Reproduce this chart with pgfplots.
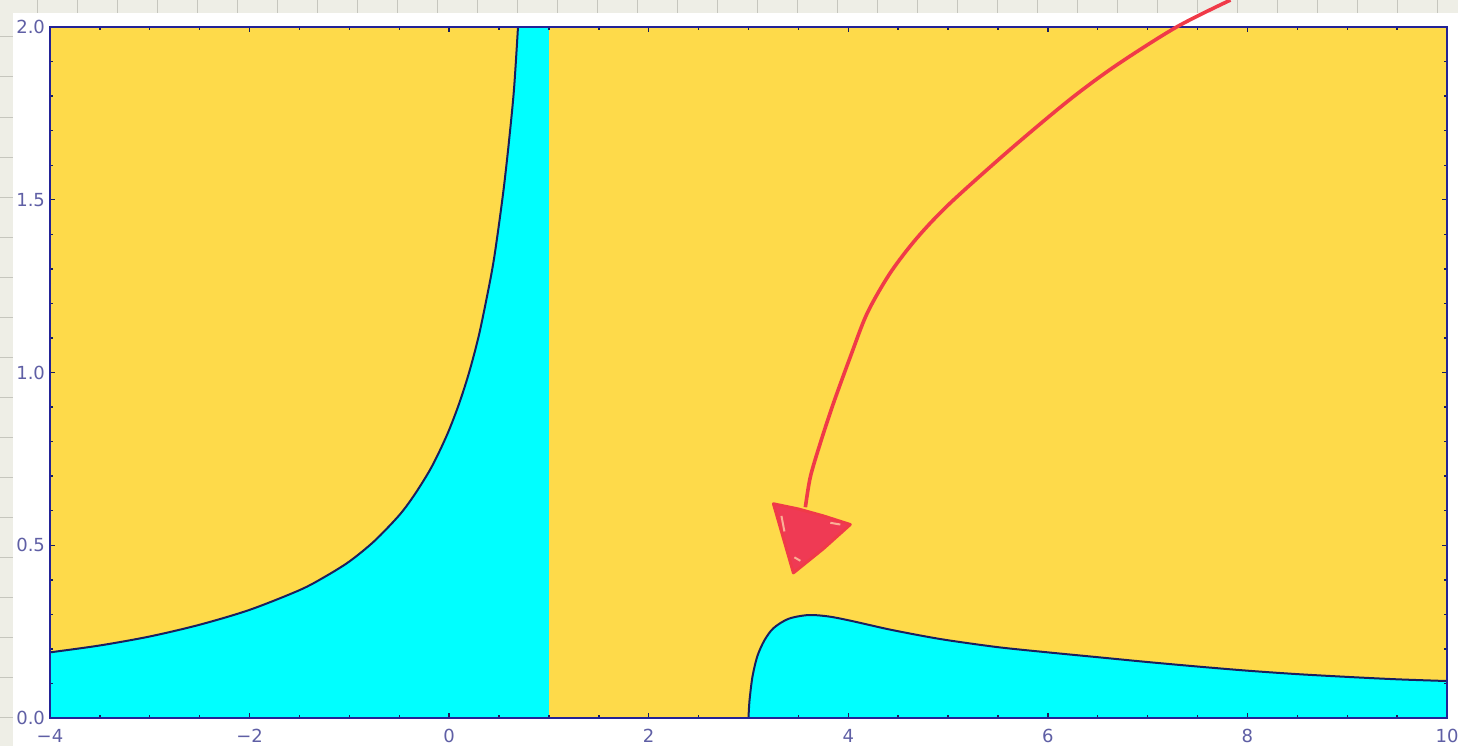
\documentclass[border=0pt]{standalone}
\usepackage{pgfplots}
\pgfplotsset{compat=1.18}
\usepackage{fontspec}
\setmainfont{DejaVu Sans}
\definecolor{ryel}{RGB}{254,218,74}
\definecolor{rcyan}{RGB}{0,255,255}
\definecolor{frameblue}{RGB}{35,35,150}
\definecolor{edge}{RGB}{25,30,95}
\definecolor{lbl}{RGB}{95,95,165}
\definecolor{redpen}{RGB}{240,58,72}
\definecolor{redfill}{RGB}{238,45,85}
\definecolor{gapcol}{RGB}{250,175,150}
\definecolor{ruler}{RGB}{238,238,230}
\definecolor{rulerline}{RGB}{198,198,190}
\begin{document}
\begin{tikzpicture}
\fill[white] (-25pt,-14pt) rectangle (704pt,359pt);
\fill[ruler] (-25pt,-14pt) rectangle (-18.5pt,352.5pt);
\fill[ruler] (-25pt,352.5pt) rectangle (704pt,359pt);
\foreach \k in {0,...,17} \draw[rulerline,line width=0.5pt] (-25pt,340.5pt-\k*20pt) -- (-18.5pt,340.5pt-\k*20pt);
\foreach \k in {0,...,36} \draw[rulerline,line width=0.5pt] (-6.5pt+\k*20pt,352.5pt) -- (-6.5pt+\k*20pt,359pt);
\begin{axis}[at={(0,0)}, anchor=south west, scale only axis,
  width=698.5pt, height=345.5pt,
  xmin=-4, xmax=10, ymin=0, ymax=2, clip=false,
  set layers, axis on top,
  axis line style={frameblue, line width=1.3pt},
  xtick={-4,-2,0,2,4,6,8,10},
  xticklabels={−4,−2,0,2,4,6,8,10},
  minor x tick num=3,
  ytick={0,0.5,1,1.5,2},
  yticklabels={0.0,0.5,1.0,1.5,2.0},
  minor y tick num=4,
  tick align=inside,
  major tick length=2.6pt, minor tick length=1.6pt,
  tick style={edge, line width=0.7pt},
  ticklabel style={font=\fontsize{9}{10}\selectfont, text=lbl},
  yticklabel style={xshift=1pt},
  xticklabel style={yshift=-2pt},
]
\fill[ryel] (rel axis cs:0,0) rectangle (rel axis cs:1,1);
% left cyan region
\addplot[fill=rcyan, draw=none] coordinates {(-4,0) (-4,0.19) (-3.5,0.21) (-3,0.236) (-2.5,0.27) (-2,0.313) (-1.5,0.37) (-1.25,0.408) (-1,0.453) (-0.75,0.512) (-0.5,0.587) (-0.35,0.645) (-0.2,0.714) (-0.1,0.77) (0,0.834) (0.1,0.91) (0.2,1.0) (0.3,1.11) (0.4,1.25) (0.45,1.33) (0.5,1.43) (0.55,1.54) (0.6,1.67) (0.65,1.82) (0.69,2.0) (1,2) (1,0)} -- cycle;
\addplot[edge, line width=1pt, smooth] coordinates {(-4,0.19) (-3.5,0.21) (-3,0.236) (-2.5,0.27) (-2,0.313) (-1.5,0.37) (-1.25,0.408) (-1,0.453) (-0.75,0.512) (-0.5,0.587) (-0.35,0.645) (-0.2,0.714) (-0.1,0.77) (0,0.834) (0.1,0.91) (0.2,1.0) (0.3,1.11) (0.4,1.25) (0.45,1.33) (0.5,1.43) (0.55,1.54) (0.6,1.67) (0.65,1.82) (0.69,2.0)};
% right cyan region
\addplot[fill=rcyan, draw=none] coordinates {(3.0,0) (3.01,0.05) (3.04,0.12) (3.09,0.18) (3.16,0.225) (3.25,0.26) (3.4,0.287) (3.6,0.298) (3.8,0.294) (4.0,0.283) (4.2,0.27) (4.4,0.257) (4.7,0.24) (5.0,0.225) (5.5,0.205) (6.0,0.19) (6.5,0.176) (7.0,0.162) (7.5,0.149) (8.0,0.137) (8.5,0.127) (9.0,0.119) (9.5,0.112) (10,0.107) (10,0)} -- cycle;
\addplot[edge, line width=1pt, smooth, tension=0.5] coordinates {(3.0,0) (3.01,0.05) (3.04,0.12) (3.09,0.18) (3.16,0.225) (3.25,0.26) (3.4,0.287) (3.6,0.298) (3.8,0.294) (4.0,0.283) (4.2,0.27) (4.4,0.257) (4.7,0.24) (5.0,0.225) (5.5,0.205) (6.0,0.19) (6.5,0.176) (7.0,0.162) (7.5,0.149) (8.0,0.137) (8.5,0.127) (9.0,0.119) (9.5,0.112) (10,0.107)};
% red hand-drawn arrow
\addplot[redpen, line width=1.8pt, smooth, on layer=axis foreground] coordinates {(7.83,2.078) (7.29,2.0) (6.69,1.89) (6.22,1.79) (5.62,1.645) (5.02,1.49) (4.69,1.39) (4.42,1.288) (4.19,1.172) (4.02,1.045) (3.85,0.91) (3.72,0.796) (3.62,0.698) (3.57,0.61)};
\addplot[fill=redfill, fill opacity=0.92, draw=redpen, line width=1.5pt, line join=round] coordinates {(3.25,0.62) (3.5,0.605) (3.75,0.585) (4.02,0.56) (3.75,0.49) (3.45,0.42) (3.35,0.52)} -- cycle;
\addplot[gapcol, line width=1pt] coordinates {(3.33,0.585) (3.36,0.54)};
\addplot[gapcol, line width=1pt] coordinates {(3.82,0.565) (3.92,0.56)};
\addplot[gapcol, line width=1pt] coordinates {(3.46,0.465) (3.52,0.455)};
\end{axis}
\pgfresetboundingbox
\useasboundingbox (-25pt,-14pt) rectangle (704pt,359pt);
\end{tikzpicture}
\end{document}
